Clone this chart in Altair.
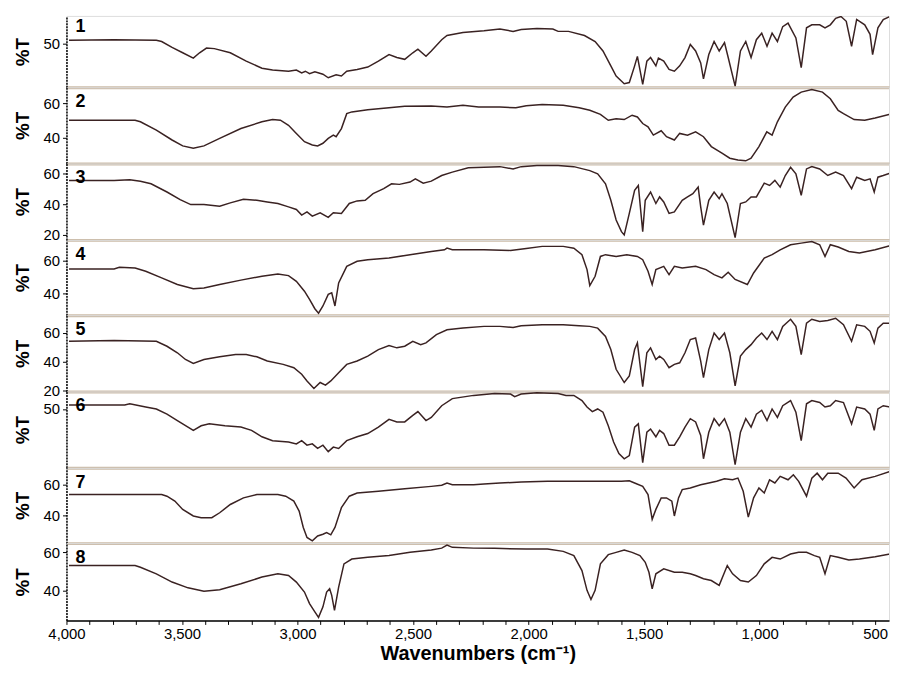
import altair as alt
import pandas as pd

# ---- data: (wavenumber cm-1, %T) ----
S1 = [(3989, 50.6), (3794, 50.7), (3611, 50.6), (3588, 50.4), (3543, 49.4), (3497, 48.5), (3451, 47.6),
      (3424, 48.5), (3394, 49.3), (3360, 49.2), (3291, 48.5), (3222, 47.1), (3154, 45.9), (3108, 45.6),
      (3039, 45.4), (3005, 45.6), (2982, 45.1), (2966, 45.4), (2948, 45.0), (2925, 45.3), (2890, 44.9),
      (2867, 44.3), (2833, 44.8), (2810, 44.6), (2787, 45.4), (2742, 45.7), (2696, 46.1), (2650, 47.1),
      (2604, 48.2), (2570, 47.7), (2536, 47.4), (2501, 48.5), (2479, 49.1), (2444, 47.9), (2421, 48.8),
      (2376, 50.7), (2353, 51.4), (2284, 51.9), (2193, 52.2), (2124, 52.5), (2067, 52.1), (2032, 52.4),
      (1964, 52.6), (1895, 52.5), (1872, 52.1), (1827, 52.1), (1758, 51.4), (1712, 50.4), (1678, 48.8),
      (1644, 46.3), (1621, 44.6), (1586, 43.3), (1564, 43.5), (1541, 46.3), (1529, 47.9), (1506, 43.2),
      (1488, 47.1), (1472, 47.7), (1449, 46.3), (1438, 47.6), (1415, 47.1), (1392, 45.7), (1369, 45.4),
      (1346, 46.3), (1323, 47.7), (1300, 49.9), (1277, 48.8), (1255, 46.8), (1243, 44.1), (1220, 48.2),
      (1197, 50.4), (1175, 48.8), (1152, 50.2), (1136, 47.7), (1106, 42.9), (1083, 48.8), (1060, 50.4),
      (1037, 47.7), (1014, 50.7), (991, 51.8), (968, 49.6), (946, 51.8), (923, 50.4), (900, 52.9),
      (877, 53.5), (843, 51.0), (820, 46.0), (797, 52.7), (774, 53.2), (740, 53.2), (717, 52.7),
      (694, 53.2), (671, 54.3), (648, 54.6), (625, 53.8), (602, 49.6), (580, 54.1), (545, 53.2),
      (522, 51.6), (511, 48.2), (488, 52.7), (465, 54.1), (436, 54.6)]

S2 = [(3989, 50.1), (3703, 50.1), (3680, 49.2), (3611, 44.4), (3543, 38.7), (3497, 35.3), (3451, 33.9),
      (3405, 35.3), (3337, 39.6), (3245, 45.3), (3154, 49.2), (3108, 50.5), (3074, 50.1), (3039, 47.2),
      (3005, 42.5), (2970, 37.7), (2936, 35.8), (2913, 35.3), (2890, 36.8), (2867, 39.6), (2845, 41.5),
      (2833, 40.6), (2810, 45.3), (2787, 53.9), (2765, 54.9), (2696, 56.2), (2604, 57.3), (2536, 58.1),
      (2421, 58.3), (2353, 57.7), (2284, 58.7), (2216, 57.7), (2124, 57.7), (2055, 57.3), (2010, 58.5),
      (1941, 59.2), (1850, 58.7), (1781, 57.3), (1735, 55.8), (1689, 53.5), (1655, 50.1), (1621, 51.0),
      (1586, 50.5), (1552, 53.0), (1529, 52.0), (1506, 48.2), (1483, 46.3), (1460, 41.5), (1426, 44.0),
      (1403, 40.6), (1369, 38.7), (1346, 42.5), (1312, 41.5), (1277, 43.4), (1243, 40.6), (1209, 34.9),
      (1163, 31.1), (1129, 28.2), (1094, 27.2), (1060, 26.7), (1037, 28.2), (1003, 34.9), (969, 43.4),
      (946, 41.5), (923, 49.2), (889, 57.7), (855, 63.4), (820, 66.3), (774, 67.8), (728, 66.3),
      (694, 62.5), (660, 55.8), (637, 53.9), (591, 50.5), (545, 50.1), (500, 51.4), (436, 53.5)]

S3 = [(3989, 55.5), (3794, 55.5), (3726, 55.9), (3680, 55.0), (3634, 53.3), (3565, 47.9), (3508, 42.9),
      (3462, 39.7), (3405, 39.7), (3337, 38.6), (3291, 40.8), (3234, 43.2), (3176, 42.5), (3131, 41.4),
      (3085, 40.4), (3039, 38.2), (3005, 36.5), (2982, 32.8), (2959, 34.9), (2936, 32.1), (2902, 34.3),
      (2867, 31.3), (2845, 34.3), (2810, 33.9), (2776, 40.4), (2742, 42.1), (2707, 42.5), (2673, 46.8),
      (2627, 50.1), (2593, 53.3), (2559, 52.9), (2513, 54.4), (2490, 56.5), (2456, 53.7), (2421, 55.0),
      (2376, 58.7), (2330, 60.9), (2261, 63.7), (2193, 64.1), (2124, 64.5), (2067, 63.0), (2032, 64.5),
      (1964, 65.2), (1872, 65.2), (1804, 64.5), (1735, 61.9), (1701, 59.8), (1667, 53.3), (1644, 42.5),
      (1621, 29.6), (1598, 22.0), (1586, 19.8), (1564, 33.9), (1541, 49.0), (1525, 52.2), (1506, 22.0),
      (1495, 42.5), (1472, 47.9), (1449, 40.4), (1433, 44.7), (1415, 41.4), (1392, 33.9), (1369, 34.9),
      (1335, 42.5), (1312, 44.7), (1289, 46.8), (1266, 51.1), (1255, 38.2), (1243, 26.3), (1220, 42.5),
      (1197, 47.9), (1175, 43.6), (1163, 46.8), (1140, 40.4), (1106, 18.1), (1083, 40.4), (1060, 41.4),
      (1037, 44.7), (1014, 44.7), (980, 53.7), (957, 52.2), (934, 55.5), (911, 51.1), (889, 58.7),
      (866, 64.1), (843, 59.8), (820, 45.8), (797, 63.0), (774, 64.5), (740, 63.0), (705, 58.7),
      (671, 60.9), (637, 58.7), (602, 50.1), (580, 57.6), (545, 55.5), (522, 56.5), (504, 47.9),
      (488, 57.6), (465, 58.7), (436, 60.2)]

S4 = [(3989, 55.1), (3794, 55.1), (3771, 56.1), (3703, 55.7), (3657, 53.7), (3588, 49.6), (3520, 45.5),
      (3451, 42.9), (3405, 43.3), (3337, 45.5), (3245, 48.2), (3154, 50.6), (3085, 52.0), (3039, 51.0),
      (3005, 47.5), (2970, 41.4), (2948, 36.3), (2925, 30.6), (2909, 27.8), (2890, 32.3), (2867, 39.4),
      (2852, 40.4), (2838, 32.3), (2822, 46.5), (2787, 56.7), (2742, 59.8), (2696, 60.8), (2604, 61.8),
      (2513, 63.9), (2421, 65.9), (2364, 66.9), (2353, 67.9), (2330, 66.9), (2193, 66.9), (2078, 66.5),
      (2010, 67.7), (1941, 69.0), (1850, 69.0), (1804, 67.9), (1769, 63.9), (1747, 54.7), (1735, 44.9),
      (1712, 50.6), (1689, 62.8), (1667, 63.9), (1621, 62.8), (1575, 63.9), (1529, 62.8), (1506, 60.8),
      (1483, 53.7), (1465, 45.5), (1449, 54.7), (1415, 56.7), (1392, 51.6), (1369, 56.7), (1335, 55.7),
      (1277, 56.7), (1232, 54.7), (1197, 51.6), (1163, 49.6), (1136, 53.1), (1106, 48.6), (1053, 45.5),
      (1026, 52.6), (980, 61.8), (946, 63.9), (911, 66.9), (866, 70.0), (820, 71.0), (774, 72.0),
      (740, 70.0), (717, 62.8), (694, 70.0), (660, 68.6), (614, 65.9), (568, 64.9), (500, 66.9),
      (436, 69.4)]

S5 = [(3989, 54.1), (3794, 54.6), (3611, 54.1), (3565, 50.7), (3520, 46.2), (3485, 41.6), (3451, 38.9),
      (3405, 41.6), (3337, 43.4), (3268, 45.0), (3222, 45.0), (3176, 43.4), (3131, 40.5), (3062, 38.2),
      (3016, 35.9), (2982, 31.4), (2959, 26.8), (2929, 21.6), (2902, 25.7), (2879, 23.9), (2856, 26.8),
      (2822, 32.5), (2787, 38.2), (2742, 40.5), (2696, 43.9), (2650, 48.4), (2604, 51.2), (2570, 49.6),
      (2536, 50.7), (2501, 54.1), (2467, 51.8), (2444, 53.0), (2399, 58.7), (2353, 62.1), (2284, 63.2),
      (2193, 64.4), (2124, 64.4), (2067, 63.7), (2032, 64.8), (1941, 65.5), (1850, 65.5), (1781, 64.8),
      (1735, 64.4), (1701, 63.2), (1667, 57.5), (1644, 48.4), (1621, 34.8), (1586, 25.7), (1564, 30.2),
      (1541, 48.4), (1529, 53.0), (1506, 22.9), (1488, 46.2), (1472, 49.6), (1449, 41.6), (1433, 43.9),
      (1415, 41.6), (1392, 35.9), (1369, 38.2), (1346, 39.3), (1323, 46.2), (1300, 55.3), (1277, 56.4),
      (1255, 40.5), (1243, 29.1), (1220, 48.4), (1197, 59.8), (1175, 55.3), (1152, 59.8), (1129, 46.2),
      (1106, 23.4), (1083, 43.9), (1060, 48.4), (1037, 51.8), (1014, 56.4), (991, 59.8), (968, 55.3),
      (946, 61.0), (923, 55.3), (900, 64.4), (866, 69.3), (843, 64.4), (820, 45.0), (797, 66.6),
      (774, 69.3), (740, 67.8), (705, 68.4), (671, 70.0), (637, 65.5), (602, 54.1), (580, 65.5),
      (545, 64.4), (522, 61.0), (504, 53.0), (488, 63.2), (465, 66.6), (436, 66.6)]

S6 = [(3989, 50.6), (3748, 50.6), (3726, 50.8), (3657, 50.3), (3611, 50.0), (3565, 49.2), (3520, 48.2),
      (3474, 47.2), (3451, 46.7), (3417, 47.4), (3382, 47.7), (3314, 47.4), (3245, 47.2), (3199, 46.7),
      (3154, 45.7), (3108, 45.1), (3039, 44.9), (3005, 44.6), (2982, 45.1), (2959, 44.4), (2936, 44.6),
      (2913, 43.9), (2890, 44.4), (2867, 43.4), (2845, 44.1), (2822, 43.9), (2787, 45.1), (2742, 45.7),
      (2696, 46.2), (2650, 47.2), (2604, 48.4), (2570, 48.0), (2536, 48.0), (2501, 49.0), (2479, 49.6),
      (2444, 48.2), (2421, 48.7), (2376, 50.5), (2330, 51.6), (2238, 52.1), (2147, 52.4), (2078, 52.3),
      (2060, 51.9), (2032, 52.3), (1964, 52.5), (1872, 52.4), (1838, 52.1), (1804, 52.1), (1769, 51.3),
      (1747, 50.3), (1724, 49.6), (1701, 50.0), (1678, 49.5), (1655, 47.4), (1632, 44.9), (1609, 43.1),
      (1586, 42.3), (1564, 42.8), (1541, 47.2), (1525, 47.7), (1506, 41.7), (1488, 46.4), (1472, 46.9),
      (1449, 45.7), (1433, 46.7), (1415, 46.2), (1392, 44.4), (1369, 44.4), (1346, 45.7), (1323, 47.2),
      (1300, 48.5), (1277, 48.0), (1255, 45.9), (1243, 42.3), (1220, 46.4), (1197, 48.5), (1175, 47.4),
      (1152, 48.5), (1129, 46.4), (1106, 41.4), (1083, 46.4), (1060, 48.5), (1037, 47.2), (1014, 49.2),
      (991, 49.8), (968, 48.2), (946, 50.0), (923, 48.7), (900, 50.5), (866, 51.3), (843, 49.5),
      (820, 45.1), (797, 50.8), (774, 51.3), (740, 51.0), (717, 50.3), (694, 50.5), (671, 51.3),
      (637, 51.0), (602, 47.7), (580, 50.3), (545, 50.0), (522, 49.2), (504, 46.7), (488, 50.0),
      (465, 50.5), (436, 50.3)]

S7 = [(3989, 53.6), (3588, 53.6), (3565, 52.5), (3531, 49.3), (3497, 43.9), (3451, 39.6), (3417, 38.5),
      (3371, 38.5), (3337, 41.7), (3291, 47.1), (3234, 51.4), (3176, 53.6), (3085, 53.6), (3051, 52.5),
      (3016, 49.3), (2993, 42.8), (2975, 32.1), (2959, 25.6), (2936, 23.4), (2913, 26.6), (2890, 27.7),
      (2874, 28.8), (2856, 27.3), (2838, 32.1), (2810, 45.0), (2776, 52.5), (2742, 54.6), (2650, 55.7),
      (2536, 57.4), (2421, 58.9), (2376, 59.6), (2353, 61.1), (2330, 60.0), (2238, 60.0), (2193, 60.4),
      (2124, 61.1), (2032, 61.7), (1918, 62.2), (1781, 62.2), (1689, 62.2), (1598, 62.2), (1564, 62.6),
      (1541, 61.1), (1506, 58.9), (1483, 53.6), (1465, 37.4), (1449, 43.9), (1426, 51.4), (1403, 51.4),
      (1380, 49.3), (1369, 39.6), (1351, 51.4), (1335, 56.8), (1300, 57.9), (1255, 60.0), (1220, 61.1),
      (1186, 62.2), (1152, 63.9), (1117, 63.2), (1094, 64.3), (1071, 55.7), (1049, 38.9), (1026, 51.4),
      (1003, 57.9), (980, 54.6), (957, 63.2), (934, 61.1), (911, 65.4), (877, 63.2), (854, 66.5),
      (831, 62.2), (797, 52.5), (774, 64.3), (751, 67.5), (728, 63.2), (705, 67.5), (660, 67.5),
      (626, 64.3), (591, 57.9), (557, 63.2), (500, 65.4), (436, 68.6)]

S8 = [(3989, 53.1), (3703, 53.1), (3680, 52.2), (3611, 48.8), (3543, 44.5), (3474, 41.5), (3405, 39.7),
      (3337, 40.5), (3245, 43.6), (3154, 47.1), (3085, 48.8), (3039, 47.9), (3005, 44.5), (2970, 39.3),
      (2948, 33.3), (2925, 29.0), (2909, 26.1), (2890, 31.6), (2874, 39.3), (2861, 41.0), (2852, 37.6),
      (2840, 29.8), (2822, 41.9), (2799, 54.0), (2765, 56.5), (2696, 57.4), (2604, 58.3), (2513, 60.0),
      (2421, 61.2), (2376, 62.2), (2353, 63.8), (2330, 62.6), (2238, 62.2), (2147, 62.1), (2010, 61.7),
      (1918, 61.7), (1850, 60.5), (1804, 58.3), (1769, 50.5), (1747, 40.2), (1730, 35.4), (1712, 40.2),
      (1689, 54.0), (1655, 58.8), (1621, 60.0), (1586, 61.2), (1552, 60.0), (1518, 58.3), (1495, 54.8),
      (1479, 49.6), (1465, 41.0), (1449, 48.8), (1415, 51.4), (1369, 49.6), (1335, 49.6), (1300, 48.8),
      (1277, 47.9), (1243, 46.2), (1209, 45.3), (1175, 42.8), (1140, 53.1), (1117, 48.8), (1083, 45.3),
      (1049, 44.5), (1014, 47.9), (980, 54.0), (946, 57.4), (911, 56.5), (866, 59.1), (831, 60.0),
      (797, 60.0), (763, 58.3), (740, 57.4), (717, 48.8), (694, 58.3), (660, 57.4), (614, 56.0),
      (568, 56.5), (500, 57.7), (436, 59.1)]

SPECTRA = [S1, S2, S3, S4, S5, S6, S7, S8]
LABELS = ["1", "2", "3", "4", "5", "6", "7", "8"]
Y_DOMAINS = [[42.7, 54.7], [25.1, 69.1], [16.6, 66.5], [26.6, 73.0],
             [19.5, 72.1], [40.9, 52.7], [21.9, 71.0], [24.5, 64.8]]
Y_TICKS = [[50], [40, 60], [20, 40, 60], [40, 60], [20, 40, 60], [50], [40, 60], [40, 60]]
X_TICKS = list(range(500, 4001, 100))
X_DOMAIN = [440, 4000]

# ---- style ----
FONT = "Liberation Sans"
LINE = "#3a2222"
SEP = "#cbbba7"
HEIGHTS = [72, 77, 77, 76, 77, 77, 76, 78]
WIDTH = 830

x_scale = alt.Scale(domain=X_DOMAIN, reverse=True, nice=False, zero=False)

panels = []
for i, (spec, lab, dom, ticks, h) in enumerate(zip(SPECTRA, LABELS, Y_DOMAINS, Y_TICKS, HEIGHTS)):
    df = pd.DataFrame(spec, columns=["wn", "t"])
    last = i == len(SPECTRA) - 1
    if last:
        xaxis = alt.Axis(values=X_TICKS,
                         labelExpr="datum.value % 500 == 0 ? format(datum.value, ',') : ''",
                         title="Wavenumbers (cm\u207b\u00b9)", titleFontSize=20, titleFontWeight="bold",
                         titleColor="black", labelFontSize=15, labelColor="black", labelFont=FONT,
                         titleFont=FONT, tickSize=4, tickColor="black", domainColor="black",
                         domainWidth=1.5, labelPadding=2, titlePadding=2, labelFlush=False,
                         labelOverlap=False, grid=False)
    else:
        xaxis = alt.Axis(labels=False, ticks=False, title=None, domainColor=SEP, domainWidth=3,
                         grid=False)
    yaxis = alt.Axis(values=ticks, title="%T", titleFontSize=19, titleFontWeight="bold",
                     titleColor="black", titleFont=FONT, labelFont=FONT, labelFontSize=15,
                     labelColor="black", tickSize=4, tickColor="black", domainColor="black",
                     domainWidth=1.5, domainDash=[2, 1], labelPadding=3, titlePadding=11,
                     grid=False)
    line = alt.Chart(df).mark_line(color=LINE, strokeWidth=1.5, clip=True).encode(
        x=alt.X("wn:Q", scale=x_scale, axis=xaxis),
        y=alt.Y("t:Q", scale=alt.Scale(domain=dom, nice=False, zero=False), axis=yaxis),
    )
    num = alt.Chart(pd.DataFrame({"n": [lab]})).mark_text(
        align="left", baseline="alphabetic", fontSize=18, fontWeight="bold", font=FONT, color="black"
    ).encode(x=alt.value(9), y=alt.value(20 if i else 16), text="n:N")
    panels.append(alt.layer(line, num).properties(width=WIDTH, height=h))

chart = alt.vconcat(*panels, spacing=0, bounds="flush").properties(
    padding={"left": 4, "top": 4, "right": 0, "bottom": 0}
).configure_view(stroke=None).configure(background="white")

chart.save("out.html", embed_options={"renderer": "svg", "actions": False})
